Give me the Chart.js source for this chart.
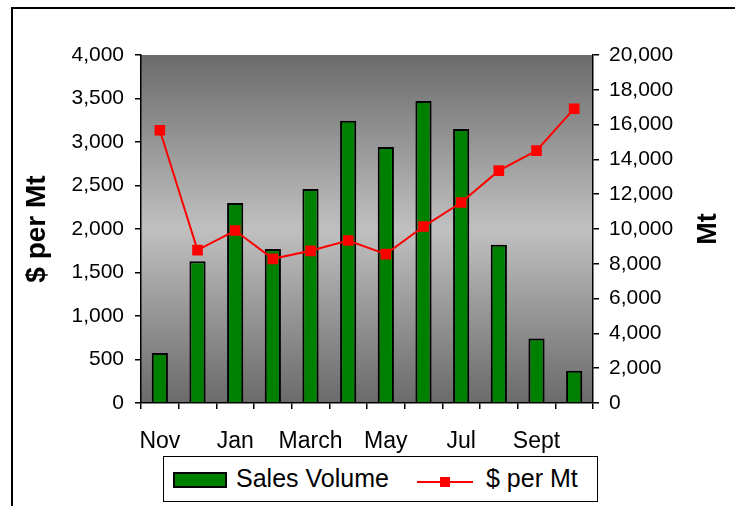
<!DOCTYPE html>
<html>
<head>
<meta charset="utf-8">
<script src="https://cdn.jsdelivr.net/npm/chart.js@4/dist/chart.umd.min.js"></script>
<style>
  html, body { margin: 0; padding: 0; background: #fff; }
  #wrap { position: relative; width: 735px; height: 506px; overflow: hidden; font-family: "Liberation Sans", Arial, sans-serif; }
  #frame { position: absolute; left: 11px; top: 7px; width: 800px; height: 600px; border-left: 2px solid #000; border-top: 2px solid #000; }
  #legend { position: absolute; left: 163px; top: 456px; width: 433px; height: 44px; border: 1px solid #000; background: #fff; }
  #legend .sw { position: absolute; left: 9px; top: 15px; width: 50px; height: 12px; background: #008000; border: 2px solid #000; }
  #legend .t1 { position: absolute; left: 72px; top: 6px; font-size: 25px; line-height: 30px; }
  #legend .ln { position: absolute; left: 253px; top: 24px; width: 56px; height: 2px; background: #ff0000; }
  #legend .mk { position: absolute; left: 276px; top: 20px; width: 10px; height: 10px; background: #ff0000; }
  #legend .t2 { position: absolute; left: 322px; top: 6px; font-size: 25px; line-height: 30px; }
  #rtitle { position: absolute; left: 667px; top: 212px; width: 80px; height: 34px; line-height: 34px; text-align: center;
            font-size: 27px; font-weight: bold; transform: rotate(-90deg); }
  canvas { position: absolute; left: 0; top: 0; }
</style>
</head>
<body>
<div id="wrap">
  <div id="frame"></div>
  <canvas id="chart" width="735" height="506"></canvas>
  <div id="rtitle">Mt</div>
  <div id="legend">
    <div class="sw"></div><div class="t1">Sales Volume</div>
    <div class="ln"></div><div class="mk"></div><div class="t2">$ per Mt</div>
  </div>
</div>
<script>
const months = ['Nov', 'Dec', 'Jan', 'Feb', 'March', 'April', 'May', 'June', 'Jul', 'Aug', 'Sept', 'Oct'];
const salesVolume = [2870, 8140, 11500, 8850, 12300, 16220, 14710, 17350, 15750, 9100, 3700, 1860];
const pricePerMt = [3135, 1757, 1982, 1657, 1749, 1867, 1711, 2028, 2304, 2671, 2901, 3383];
const leftTicks = { min: 0, max: 4000, step: 500 };
const rightTicks = { min: 0, max: 20000, step: 2000 };

const fontFamily = "'Liberation Sans', Arial, sans-serif";

const plotBackground = {
    id: 'plotBackground',
    beforeDraw(chart) {
        const { ctx, chartArea: a } = chart;
        const g = ctx.createLinearGradient(0, a.top, 0, a.bottom);
        g.addColorStop(0, '#6b6b6b');
        g.addColorStop(0.5, '#c0c0c0');
        g.addColorStop(1, '#6a6a6a');
        ctx.save();
        ctx.fillStyle = g;
        ctx.fillRect(a.left, a.top, a.right - a.left, a.bottom - a.top);
        ctx.restore();
    }
};

function fixWidth(w) {
    return scale => { scale.width = w; };
}

new Chart(document.getElementById('chart'), {
    type: 'bar',
    data: {
        labels: months,
        datasets: [
            {
                type: 'line',
                label: '$ per Mt',
                data: pricePerMt,
                yAxisID: 'y',
                borderColor: '#ff0000',
                backgroundColor: '#ff0000',
                borderWidth: 2,
                pointStyle: 'rect',
                pointRadius: 7.5,
                pointBorderWidth: 0,
                tension: 0,
                order: 0
            },
            {
                type: 'bar',
                label: 'Sales Volume',
                data: salesVolume,
                yAxisID: 'y1',
                backgroundColor: '#008000',
                borderColor: '#000000',
                borderWidth: 2,
                categoryPercentage: 1,
                barPercentage: 0.43,
                order: 1
            }
        ]
    },
    options: {
        responsive: false,
        animation: false,
        layout: { padding: { top: 55, left: 0, right: 0, bottom: 0 } },
        plugins: {
            legend: { display: false },
            tooltip: { enabled: false }
        },
        scales: {
            x: {
                offset: true,
                grid: { offset: true, drawOnChartArea: false, drawTicks: true, tickLength: 6, color: '#000', lineWidth: 1.5 },
                border: { color: '#000', width: 1.5 },
                ticks: {
                    autoSkip: false,
                    maxRotation: 0,
                    color: '#000',
                    padding: 19,
                    font: { family: fontFamily, size: 23 },
                    callback: function (v, i) { return i % 2 === 0 ? months[i] : ''; }
                },
                afterFit: scale => { scale.height = 103; }
            },
            y: {
                position: 'left',
                min: leftTicks.min,
                max: leftTicks.max,
                grid: { drawOnChartArea: false, tickLength: 6, color: '#000', lineWidth: 1.5 },
                border: { color: '#000', width: 1.5 },
                ticks: { stepSize: leftTicks.step, color: '#000', padding: 11, font: { family: fontFamily, size: 21 } },
                title: { display: true, text: '$ per Mt', color: '#000', padding: { top: 20, bottom: 0 }, font: { family: fontFamily, size: 28, weight: 'bold' } },
                afterFit: fixWidth(141)
            },
            y1: {
                position: 'right',
                min: rightTicks.min,
                max: rightTicks.max,
                grid: { drawOnChartArea: false, tickLength: 6, color: '#000', lineWidth: 1.5 },
                border: { color: '#000', width: 1.5 },
                ticks: { stepSize: rightTicks.step, color: '#000', padding: 10, font: { family: fontFamily, size: 21 } },
                afterFit: fixWidth(142)
            }
        }
    },
    plugins: [plotBackground]
});
</script>
</body>
</html>
